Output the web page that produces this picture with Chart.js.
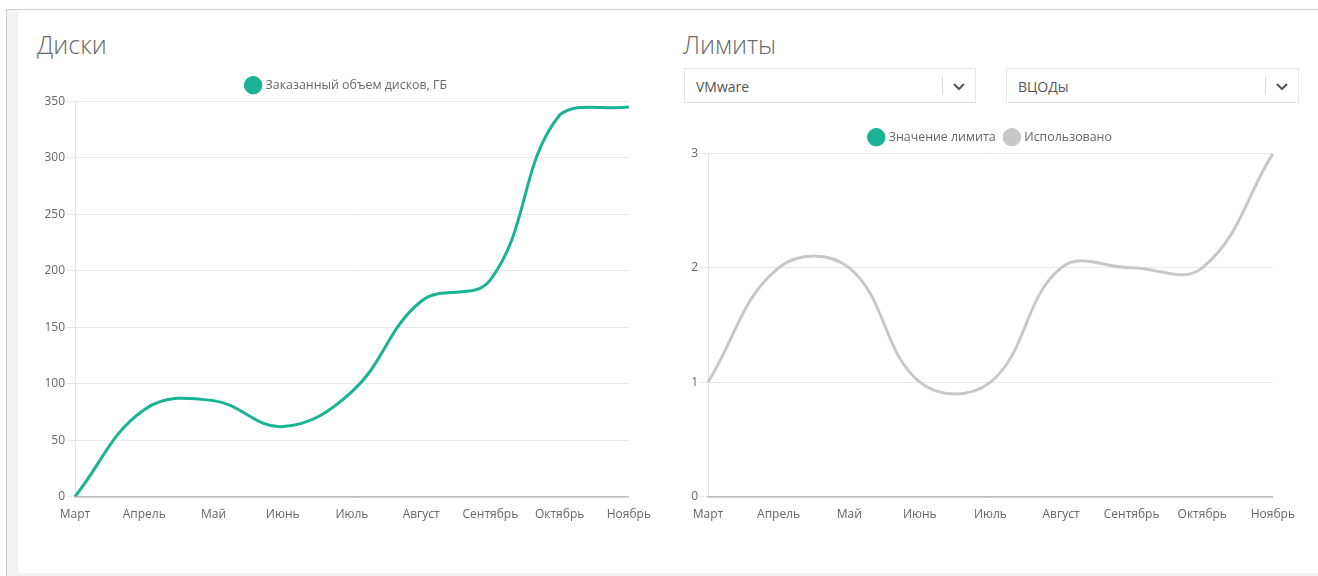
<!DOCTYPE html>
<html lang="ru">
<head>
<meta charset="utf-8">
<title>Диски и лимиты</title>
<script src="https://cdn.jsdelivr.net/npm/chart.js@4/dist/chart.umd.min.js"></script>
<style>
  html, body { margin: 0; padding: 0; background: #fff; }
  body { width: 1318px; height: 576px; position: relative; overflow: hidden; font-family: "Open Sans", sans-serif; }
  .frame-top { position: absolute; left: 6px; top: 9px; width: 1312px; height: 1px; background: #cfcfcf; }
  .frame-left { position: absolute; left: 6px; top: 9px; width: 1px; height: 567px; background: #cfcfcf; }
  .gutter { position: absolute; left: 7px; top: 10px; width: 11px; height: 566px; background: #f3f3f4; }
  .frame-bottom { position: absolute; left: 7px; top: 573px; width: 1311px; height: 3px; background: #f3f3f4; }
  .title { position: absolute; font-size: 25px; font-weight: 300; color: #676a6c; line-height: 1; }
  .select { position: absolute; top: 68px; height: 35px; border: 1px solid #e5e6e7; box-sizing: border-box; background: #fff; }
  .select span { position: absolute; left: 11px; top: 0; line-height: 35px; font-size: 14px; color: #555; }
  .select i { position: absolute; top: 8px; width: 1px; height: 18px; background: #d6d6d6; }
  .select svg { position: absolute; top: 12px; }
  .chart-box { position: absolute; }
</style>
</head>
<body>
<div class="frame-top"></div>
<div class="frame-left"></div>
<div class="gutter"></div>
<div class="frame-bottom"></div>

<div class="title" style="left:37px; top:32px;">Диски</div>
<div class="title" style="left:683px; top:32px;">Лимиты</div>

<div class="select" style="left:684px; width:292px;">
  <span>VMware</span>
  <i style="left:257px;"></i>
  <svg style="left:267px;" width="14" height="10" viewBox="0 0 14 10"><polyline points="2,3 7,8 12,3" fill="none" stroke="#555" stroke-width="2"/></svg>
</div>
<div class="select" style="left:1006px; width:293px;">
  <span>ВЦОДы</span>
  <i style="left:258px;"></i>
  <svg style="left:268px;" width="14" height="10" viewBox="0 0 14 10"><polyline points="2,3 7,8 12,3" fill="none" stroke="#555" stroke-width="2"/></svg>
</div>

<div class="chart-box" style="left:30px; top:69px; width:624px; height:456px;"><canvas id="disks"></canvas></div>
<div class="chart-box" style="left:666px; top:121px; width:632px; height:404px;"><canvas id="limits"></canvas></div>

<script>
// Month labels shared by both charts
const months = ['Март', 'Апрель', 'Май', 'Июнь', 'Июль', 'Август', 'Сентябрь', 'Октябрь', 'Ноябрь'];

// Ordered disk volume, GB
const diskVolume = [0, 77, 85, 62, 93, 173, 192, 338, 345];

// VCDC limits: limit value and used amount
const limitValue = [];
const limitUsed = [1, 2, 2, 1, 1, 2, 2, 2, 3];

const GREEN = '#1ab394';
const GREY = '#c8c8c8';

Chart.defaults.font.family = '"Open Sans", sans-serif';
Chart.defaults.font.size = 12;
Chart.defaults.color = '#666';

function axes(maxY, stepY, yWidth) {
  return {
    x: {
      offset: false,
      grid: { display: false },
      border: { display: true, color: 'rgba(0,0,0,0.18)', width: 2 },
      ticks: { maxRotation: 0, autoSkip: false, padding: 3 }
    },
    y: {
      min: 0,
      max: maxY,
      ticks: { stepSize: stepY, padding: 2 },
      grid: { color: 'rgba(0,0,0,0.09)', tickLength: 8 },
      border: { display: true, color: 'rgba(0,0,0,0.1)' },
      afterFit: (scale) => { scale.width = yWidth; }
    }
  };
}

function baseOptions(maxY, stepY, yWidth, padLeft) {
  return {
    responsive: true,
    maintainAspectRatio: false,
    animation: false,
    layout: { padding: { left: padLeft, right: 0, top: 0, bottom: 0 } },
    elements: {
      line: { tension: 0.4, borderWidth: 3, fill: false },
      point: { radius: 0, hoverRadius: 0 }
    },
    plugins: {
      legend: {
        position: 'top',
        labels: {
          usePointStyle: true,
          pointStyle: 'circle',
          padding: 10,
          color: '#666',
          font: { size: 12.4 }
        }
      },
      tooltip: { enabled: false }
    },
    scales: axes(maxY, stepY, yWidth)
  };
}

new Chart(document.getElementById('disks'), {
  type: 'line',
  data: {
    labels: months,
    datasets: [{
      label: 'Заказанный объем дисков, ГБ',
      data: diskVolume,
      borderColor: GREEN,
      backgroundColor: GREEN
    }]
  },
  options: baseOptions(350, 50, 35, 10)
});

new Chart(document.getElementById('limits'), {
  type: 'line',
  data: {
    labels: months,
    datasets: [{
      label: 'Значение лимита',
      data: limitValue,
      borderColor: GREEN,
      backgroundColor: GREEN
    }, {
      label: 'Использовано',
      data: limitUsed,
      borderColor: GREY,
      backgroundColor: GREY
    }]
  },
  options: baseOptions(3, 1, 24, 18)
});
</script>
</body>
</html>
